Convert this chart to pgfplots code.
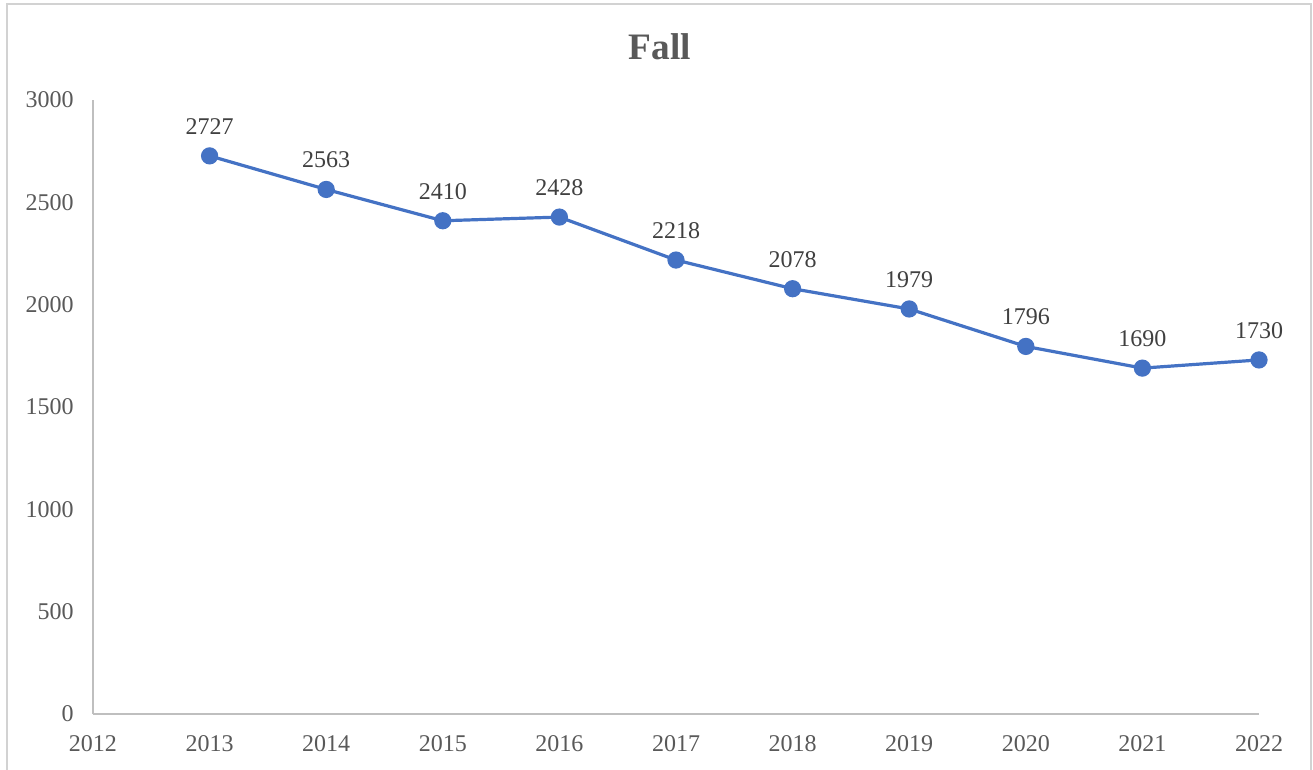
\documentclass[border=0pt]{standalone}
\usepackage{pgfplots}
\pgfplotsset{compat=1.18}
\usepackage{fontspec}
\setmainfont{Liberation Serif}
\definecolor{lineblue}{HTML}{4472C4}
\definecolor{axgray}{HTML}{BFBFBF}
\definecolor{txtgray}{HTML}{595959}
\definecolor{lblgray}{HTML}{404040}
\begin{document}
\begin{tikzpicture}
% picture frame: 1313 x 769 px at 0.75pt per px, axis box corner at (93,714)
\useasboundingbox (-69.75pt,-41.25pt) rectangle (915pt,535.5pt);
\draw[axgray!70, line width=1pt] (-64.5pt,-60pt) -- (-64.5pt,532.5pt) -- (913.5pt,532.5pt) -- (913.5pt,-60pt);
\begin{axis}[
    at={(0,0)}, anchor=south west,
    scale only axis,
    width=874.5pt, height=460.5pt,
    xmin=2012, xmax=2022,
    ymin=0, ymax=3000,
    xtick={2012,2013,...,2022},
    ytick={0,500,...,3000},
    axis x line*=bottom, axis y line*=left,
    axis line style={axgray, line width=1.2pt, -},
    major tick length=0pt,
    tick label style={font=\fontsize{18}{20}\selectfont, text=txtgray},
    xticklabel style={yshift=-12.5pt},
    yticklabel style={xshift=-11pt},
    /pgf/number format/assume math mode=true,
    /pgf/number format/set thousands separator={},
    clip=false,
]
\addplot[
    color=lineblue, line width=2.4pt,
    mark=*, mark size=5.25pt, mark options={fill=lineblue, draw=lineblue},
    nodes near coords,
    every node near coord/.append style={font=\fontsize{18}{20}\selectfont, text=lblgray, anchor=south, yshift=11.5pt},
    ]
    coordinates {
     (2013,2727)(2014,2563)(2015,2410)(2016,2428)(2017,2218)(2018,2078)(2019,1979)(2020,1796)(2021,1690)(2022,1730)};
\end{axis}
\node[font=\fontsize{28}{30}\selectfont\bfseries, text=txtgray] at (425.25pt,500.25pt) {Fall};
\end{tikzpicture}
\end{document}
